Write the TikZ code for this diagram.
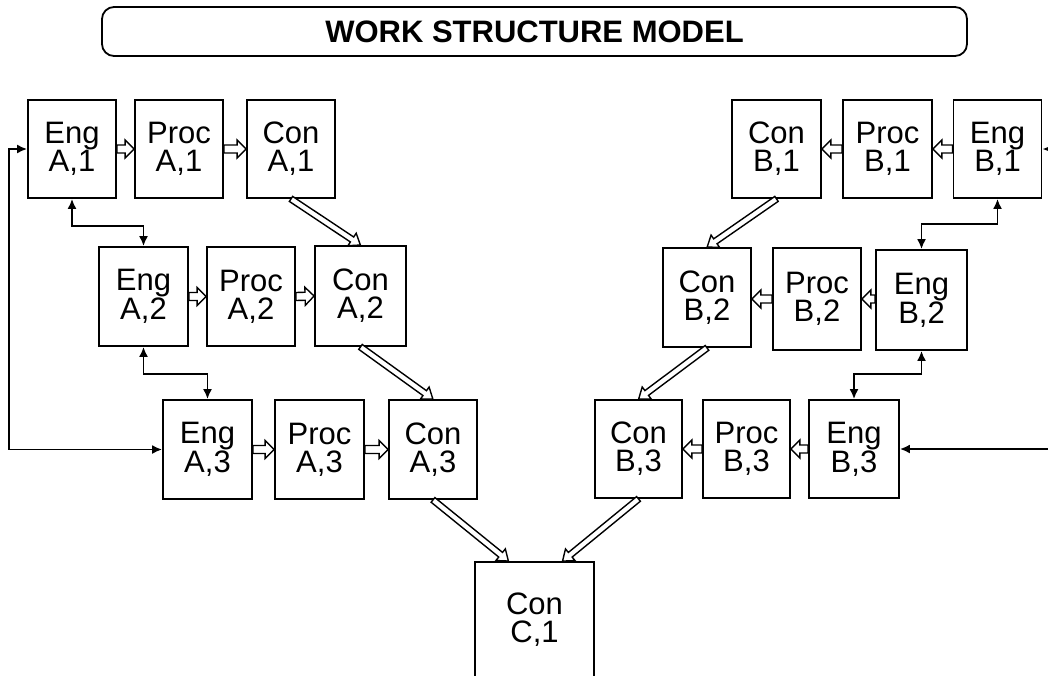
\documentclass[tikz,border=0pt]{standalone}
\usepackage{fontspec}
\setmainfont{Liberation Sans}
\usetikzlibrary{arrows.meta,calc}
\tikzset{
  box/.style={draw=black, line width=1.8pt, inner sep=0pt, align=center,
    minimum width=88pt, minimum height=98pt,
    font=\fontsize{31}{28}\selectfont},
  conn/.style={draw=black, line width=1.8pt, {Latex[length=10pt,width=9pt]}-{Latex[length=10pt,width=9pt]}},
  hollow/.style={draw=black, fill=white, line width=1.4pt, line join=miter,
    to path={
      let \p1=(\tikztostart), \p2=(\tikztotarget),
          \n1={atan2(\y2-\y1,\x2-\x1)}, \n2={veclen(\x2-\x1,\y2-\y1)} in
      {[shift={(\p1)}, rotate=\n1]
        (0pt,-4pt) -- ({\n2-9pt},-4pt) -- ({\n2-9pt},-9pt) -- ({\n2},0pt)
        -- ({\n2-9pt},9pt) -- ({\n2-9pt},4pt) -- (0pt,4pt) -- cycle}
    }},
  diag/.style={draw=black, fill=white, line width=1.4pt, line join=miter,
    to path={
      let \p1=(\tikztostart), \p2=(\tikztotarget),
          \n1={atan2(\y2-\y1,\x2-\x1)}, \n2={veclen(\x2-\x1,\y2-\y1)} in
      {[shift={(\p1)}, rotate=\n1]
        (0pt,-3pt) -- ({\n2-10pt},-3pt) -- ({\n2-10pt},-7.5pt) -- ({\n2},0pt)
        -- ({\n2-10pt},7.5pt) -- ({\n2-10pt},3pt) -- (0pt,3pt) -- cycle}
    }},
}
\begin{document}
\begin{tikzpicture}[x=1pt,y=-1pt]
\useasboundingbox (0,0) rectangle (1048,675);
\clip (0,0) rectangle (1048,675);
\fill[white] (0,0) rectangle (1048,675);

% title
\node[draw=black, line width=1.8pt, rounded corners=12pt, minimum width=865pt,
  minimum height=49pt, inner sep=0pt, font=\fontsize{31}{31}\bfseries\selectfont]
  (title) at (534.5,31.5) {WORK STRUCTURE MODEL};

% row 1
\node[box] (eA1) at (72,149) {Eng\\A,1};
\node[box] (pA1) at (179,149) {Proc\\A,1};
\node[box] (cA1) at (291,149) {Con\\A,1};
\node[box, minimum width=89pt] (cB1) at (776.5,149) {Con\\B,1};
\node[box, minimum width=89pt] (pB1) at (887.5,149) {Proc\\B,1};
\node[box] (eB1) at (997.5,149) {Eng\\B,1};

% row 2
\node[box, minimum width=89pt, minimum height=99pt] (eA2) at (143.5,296.5) {Eng\\A,2};
\node[box, minimum height=99pt] (pA2) at (251,296.5) {Proc\\A,2};
\node[box, minimum width=91pt, minimum height=100pt] (cA2) at (360.5,296) {Con\\A,2};
\node[box, minimum height=99pt] (cB2) at (707,297.5) {Con\\B,2};
\node[box, minimum height=102pt] (pB2) at (817,299) {Proc\\B,2};
\node[box, minimum width=91pt, minimum height=100pt] (eB2) at (921.5,300) {Eng\\B,2};

% row 3
\node[box, minimum width=89pt, minimum height=99pt] (eA3) at (207.5,449.5) {Eng\\A,3};
\node[box, minimum width=89pt, minimum height=99pt] (pA3) at (319.5,449.5) {Proc\\A,3};
\node[box, minimum height=99pt] (cA3) at (433,449.5) {Con\\A,3};
\node[box, minimum width=87pt] (cB3) at (638.5,449) {Con\\B,3};
\node[box, minimum width=87pt] (pB3) at (746.5,449) {Proc\\B,3};
\node[box, minimum width=90pt] (eB3) at (854,449) {Eng\\B,3};

% final
\node[box, minimum width=119pt, minimum height=116pt] (c1) at (534.5,620) {Con\\C,1};

% hollow horizontal arrows
\draw[hollow] (eA1.east) to (pA1.west);
\draw[hollow] (pA1.east) to (cA1.west);
\draw[hollow] (eA2.east) to (pA2.west);
\draw[hollow] (pA2.east) to (cA2.west);
\draw[hollow] (eA3.east) to (pA3.west);
\draw[hollow] (pA3.east) to (cA3.west);
\draw[hollow] (eB1.west) to (pB1.east);
\draw[hollow] (pB1.west) to (cB1.east);
\draw[hollow] (eB2.west |- pB2.east) to (pB2.east);
\draw[hollow] (pB2.west) to (pB2.west -| cB2.east);
\draw[hollow] (eB3.west) to (pB3.east);
\draw[hollow] (pB3.west) to (cB3.east);

% diagonal arrows
\coordinate (c1l) at ([xshift=-26pt]c1.north);
\coordinate (c1r) at ([xshift=28pt]c1.north);
\draw[diag] (cA1.south) to (cA2.north);
\draw[diag] (cA2.south) to (cA3.north);
\draw[diag] (cA3.south) to (c1l);
\draw[diag] (cB1.south) to (cB2.north);
\draw[diag] (cB2.south) to (cB3.north);
\draw[diag] (cB3.south) to (c1r);

% feedback connectors
\draw[conn] (eA1.south) -- ++(0,27) -| (eA2.north);
\draw[conn] (eA2.south) -- ++(0,27) -| (eA3.north);
\draw[conn] (eB1.south) -- ++(0,25) -| (eB2.north);
\draw[conn] (eB2.south) -- ++(0,23) -| (eB3.north);
\coordinate (lft) at (9,149);
\coordinate (rgt) at (1062,149);
\draw[conn] (eA1.west) -- (lft) |- (eA3.west);
\draw[conn] (eB1.east) -- (rgt) |- (eB3.east);
\end{tikzpicture}
\end{document}
